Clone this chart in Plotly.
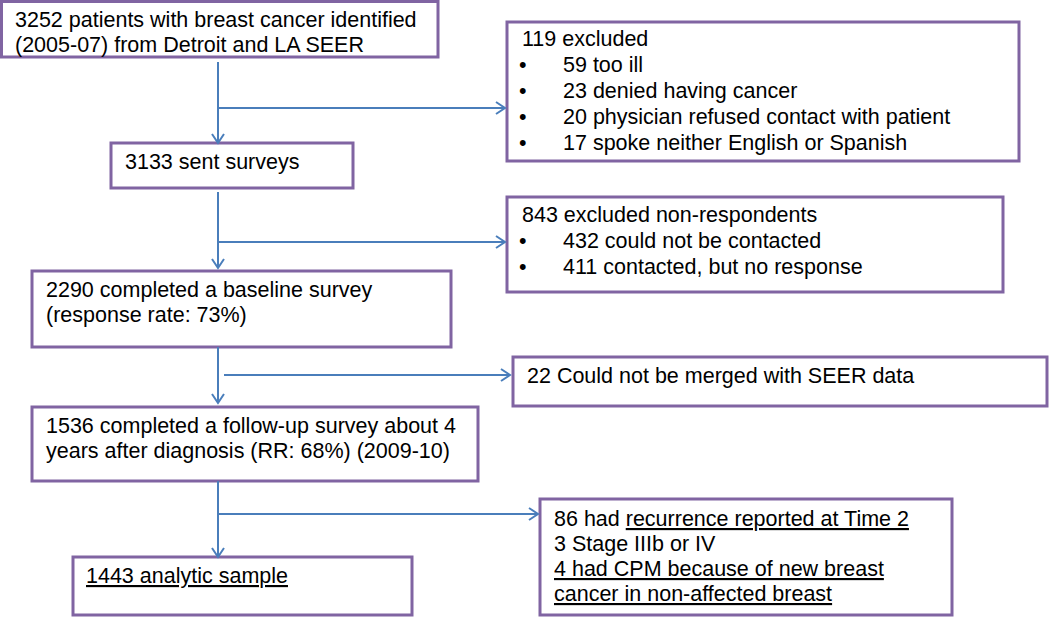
import plotly.graph_objects as go

# Text of the main flow (left column), one list of lines per box
main_lines = [
    ["3252 patients with breast cancer identified", "(2005-07) from Detroit and LA SEER"],
    ["3133 sent surveys"],
    ["2290 completed a baseline survey", "(response rate: 73%)"],
    ["1536 completed a follow-up survey about 4", "years after diagnosis (RR: 68%) (2009-10)"],
    ["<u>1443 analytic sample</u>"],
]

# Exclusion boxes (right column): heading line, bullet lines, plain lines
excl_heads = [
    "119 excluded",
    "843 excluded non-respondents",
    "22 Could not be merged with SEER data",
    "86 had <u>recurrence reported at Time 2</u>",
]
excl_bullets = [
    ["59 too ill", "23 denied having cancer",
     "20 physician refused contact with patient", "17 spoke neither English or Spanish"],
    ["432 could not be contacted", "411 contacted, but no response"],
    [],
    [],
]
excl_extra = [
    [],
    [],
    [],
    ["3 Stage IIIb or IV", "<u>4 had CPM because of new breast</u>",
     "<u>cancer in non-affected breast</u>"],
]

# layout geometry (pixel space, y downward)
main_boxes = [(1.5, 1.5, 438, 57), (111, 143, 353, 188), (32, 271, 451, 347),
              (32, 407, 478, 481), (73, 557, 412, 615)]
main_text_pos = [(13, 28), (123, 170), (44, 298), (44, 434), (84, 584)]
side_boxes = [(507, 22, 1019, 161), (507, 197, 1003, 292),
              (513, 357, 1047, 406), (540, 499, 952, 615)]
side_text_pos = [(520, 47), (520, 223), (525, 384), (552, 527)]
side_line_gap = [26, 26, 26, 25]
main_line_gap = 25

trunk_x = 218
arrows = [  # (y_start, y_end, branch_y, branch_x0, branch_x1)
    (62, 143, 108, 218, 505),
    (192, 268, 242, 218, 505),
    (347, 403, 375, 224, 510),
    (481, 557, 514, 218, 538),
]

PURPLE = "#8064A2"
BLUE = "#4A7EBB"
FS = 21.5
FONT = "Liberation Sans, Arial, sans-serif"
shift = 0.36 * FS  # baseline -> visual middle

fig = go.Figure()

def add_text(x, base, txt, anchor="left"):
    fig.add_annotation(x=x, y=base - shift, text=txt, showarrow=False,
                       xanchor=anchor, yanchor="middle",
                       font=dict(family=FONT, size=FS, color="black"))

def chevron(x, y, d):
    # open arrowhead pointing in direction d ('down' or 'right')
    if d == "down":
        p = f"M {x-6},{y-9} L {x},{y} L {x+6},{y-9}"
    else:
        p = f"M {x-9},{y-6} L {x},{y} L {x-9},{y+6}"
    fig.add_shape(type="path", path=p, line=dict(color=BLUE, width=2))

for (x0, y0, x1, y1) in main_boxes + side_boxes:
    fig.add_shape(type="rect", x0=x0, y0=y0, x1=x1, y1=y1,
                  line=dict(color=PURPLE, width=3), fillcolor="white")

for lines, (tx, ty) in zip(main_lines, main_text_pos):
    for i, ln in enumerate(lines):
        add_text(tx, ty + i * main_line_gap, ln)

for k, (tx, ty) in enumerate(side_text_pos):
    g = side_line_gap[k]
    add_text(tx, ty, excl_heads[k])
    row = 1
    for b in excl_bullets[k]:
        add_text(tx + 3, ty + row * g, "\u2022", anchor="center")
        add_text(561, ty + row * g, b)
        row += 1
    for e in excl_extra[k]:
        add_text(tx, ty + row * g, e)
        row += 1

for (ys, ye, by, bx0, bx1) in arrows:
    fig.add_shape(type="line", x0=trunk_x, y0=ys, x1=trunk_x, y1=ye,
                  line=dict(color=BLUE, width=2))
    chevron(trunk_x, ye, "down")
    fig.add_shape(type="line", x0=bx0, y0=by, x1=bx1, y1=by,
                  line=dict(color=BLUE, width=2))
    chevron(bx1, by, "right")

fig.update_xaxes(range=[0, 1050], visible=False)
fig.update_yaxes(range=[617, 0], visible=False)
fig.update_layout(width=1050, height=617, margin=dict(l=0, r=0, t=0, b=0),
                  plot_bgcolor="white", paper_bgcolor="white", showlegend=False)

fig.write_html("out.html", config={"displayModeBar": False},
               post_script="document.body.style.margin='0';")
